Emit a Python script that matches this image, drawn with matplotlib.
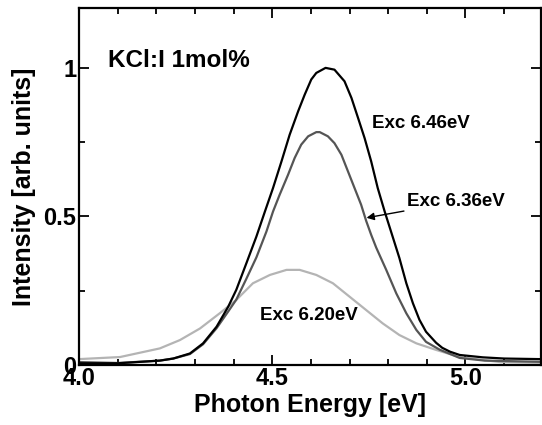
import numpy as np
import matplotlib.pyplot as plt
from matplotlib.ticker import MultipleLocator

plt.rcParams['font.family'] = ['Liberation Sans', 'DejaVu Sans']
plt.rcParams['font.weight'] = 'bold'
plt.rcParams['axes.labelweight'] = 'bold'

# Exc 6.46 eV (black)
e_646 = [4.00, 4.10, 4.209, 4.244, 4.287, 4.321, 4.356, 4.386, 4.407, 4.433, 4.459,
         4.481, 4.502, 4.524, 4.545, 4.567, 4.584, 4.601, 4.614, 4.638, 4.661,
         4.687, 4.705, 4.722, 4.739, 4.756, 4.773, 4.791, 4.812, 4.829, 4.847,
         4.864, 4.881, 4.898, 4.924, 4.94, 4.96, 4.985, 5.045, 5.10, 5.195]
i_646 = [0.006, 0.006, 0.015, 0.022, 0.039, 0.073, 0.129, 0.196, 0.253, 0.342, 0.432,
         0.516, 0.595, 0.685, 0.774, 0.853, 0.909, 0.960, 0.982, 0.999, 0.993,
         0.954, 0.898, 0.831, 0.763, 0.685, 0.595, 0.516, 0.430, 0.360, 0.275,
         0.208, 0.152, 0.112, 0.075, 0.058, 0.045, 0.034, 0.026, 0.022, 0.020]

# Exc 6.36 eV (dark grey)
e_636 = [4.00, 4.10, 4.209, 4.244, 4.287, 4.321, 4.356, 4.386, 4.407, 4.433, 4.459,
         4.485, 4.502, 4.519, 4.541, 4.558, 4.575, 4.593, 4.614, 4.623, 4.644,
         4.661, 4.679, 4.696, 4.713, 4.730, 4.743, 4.756, 4.769, 4.795, 4.821,
         4.847, 4.873, 4.898, 4.933, 4.985, 5.05, 5.195]
i_636 = [0.010, 0.007, 0.015, 0.022, 0.037, 0.070, 0.124, 0.180, 0.220, 0.290, 0.362,
         0.449, 0.516, 0.572, 0.640, 0.696, 0.741, 0.769, 0.783, 0.783, 0.769,
         0.746, 0.707, 0.651, 0.595, 0.539, 0.485, 0.438, 0.395, 0.320, 0.241,
         0.174, 0.118, 0.078, 0.052, 0.024, 0.015, 0.011]

# Exc 6.20 eV (light grey)
e_620 = [4.00, 4.106, 4.209, 4.261, 4.313, 4.364, 4.407, 4.450, 4.494, 4.537, 4.571,
         4.614, 4.657, 4.700, 4.743, 4.786, 4.829, 4.873, 4.924, 4.985, 5.09, 5.195]
i_620 = [0.020, 0.027, 0.056, 0.084, 0.123, 0.174, 0.219, 0.275, 0.303, 0.320, 0.320,
         0.303, 0.275, 0.230, 0.185, 0.140, 0.101, 0.073, 0.051, 0.027, 0.010, 0.008]

fig = plt.figure(figsize=(5.42, 4.25), dpi=100)
ax = fig.add_axes([0.1458, 0.141, 0.852, 0.840])

ax.plot(e_620, i_620, color="#b4b4b4", lw=1.6)
ax.plot(e_636, i_636, color="#555555", lw=1.6)
ax.plot(e_646, i_646, color="black", lw=1.6)

ax.set_xlim(4.0, 5.195)
ax.set_ylim(0, 1.2)
ax.xaxis.set_minor_locator(MultipleLocator(0.1))
ax.yaxis.set_minor_locator(MultipleLocator(0.25))
ax.set_xticks([4.0, 4.5, 5.0])
ax.set_xticklabels(["4.0", "4.5", "5.0"])
ax.set_yticks([0, 0.5, 1])
ax.set_yticklabels(["0", "0.5", "1"])
ax.tick_params(which="both", direction="in", top=True, right=True, width=1.3,
               labelsize=17)
ax.tick_params(axis="x", pad=1.5)
ax.tick_params(axis="y", pad=2)
ax.tick_params(which="major", length=7)
ax.tick_params(which="minor", length=4.3)
for s in ax.spines.values():
    s.set_linewidth(1.6)

ax.set_xlabel("Photon Energy [eV]", fontsize=18, labelpad=2)
ax.set_ylabel("Intensity [arb. units]", fontsize=18, labelpad=5)

ax.text(4.075, 1.024, "KCl:I 1mol%", fontsize=17.5, va="center")
ax.text(4.757, 0.811, "Exc 6.46eV", fontsize=13.5, va="center")
ax.text(4.468, 0.168, "Exc 6.20eV", fontsize=13.5, va="center")
ax.annotate("Exc 6.36eV", xy=(4.744, 0.495), xytext=(4.848, 0.549),
            fontsize=13.5, va="center",
            arrowprops=dict(arrowstyle="-|>", color="black", lw=1.0,
                            mutation_scale=11, shrinkA=0, shrinkB=0))

fig.savefig("out.png", dpi=100)
